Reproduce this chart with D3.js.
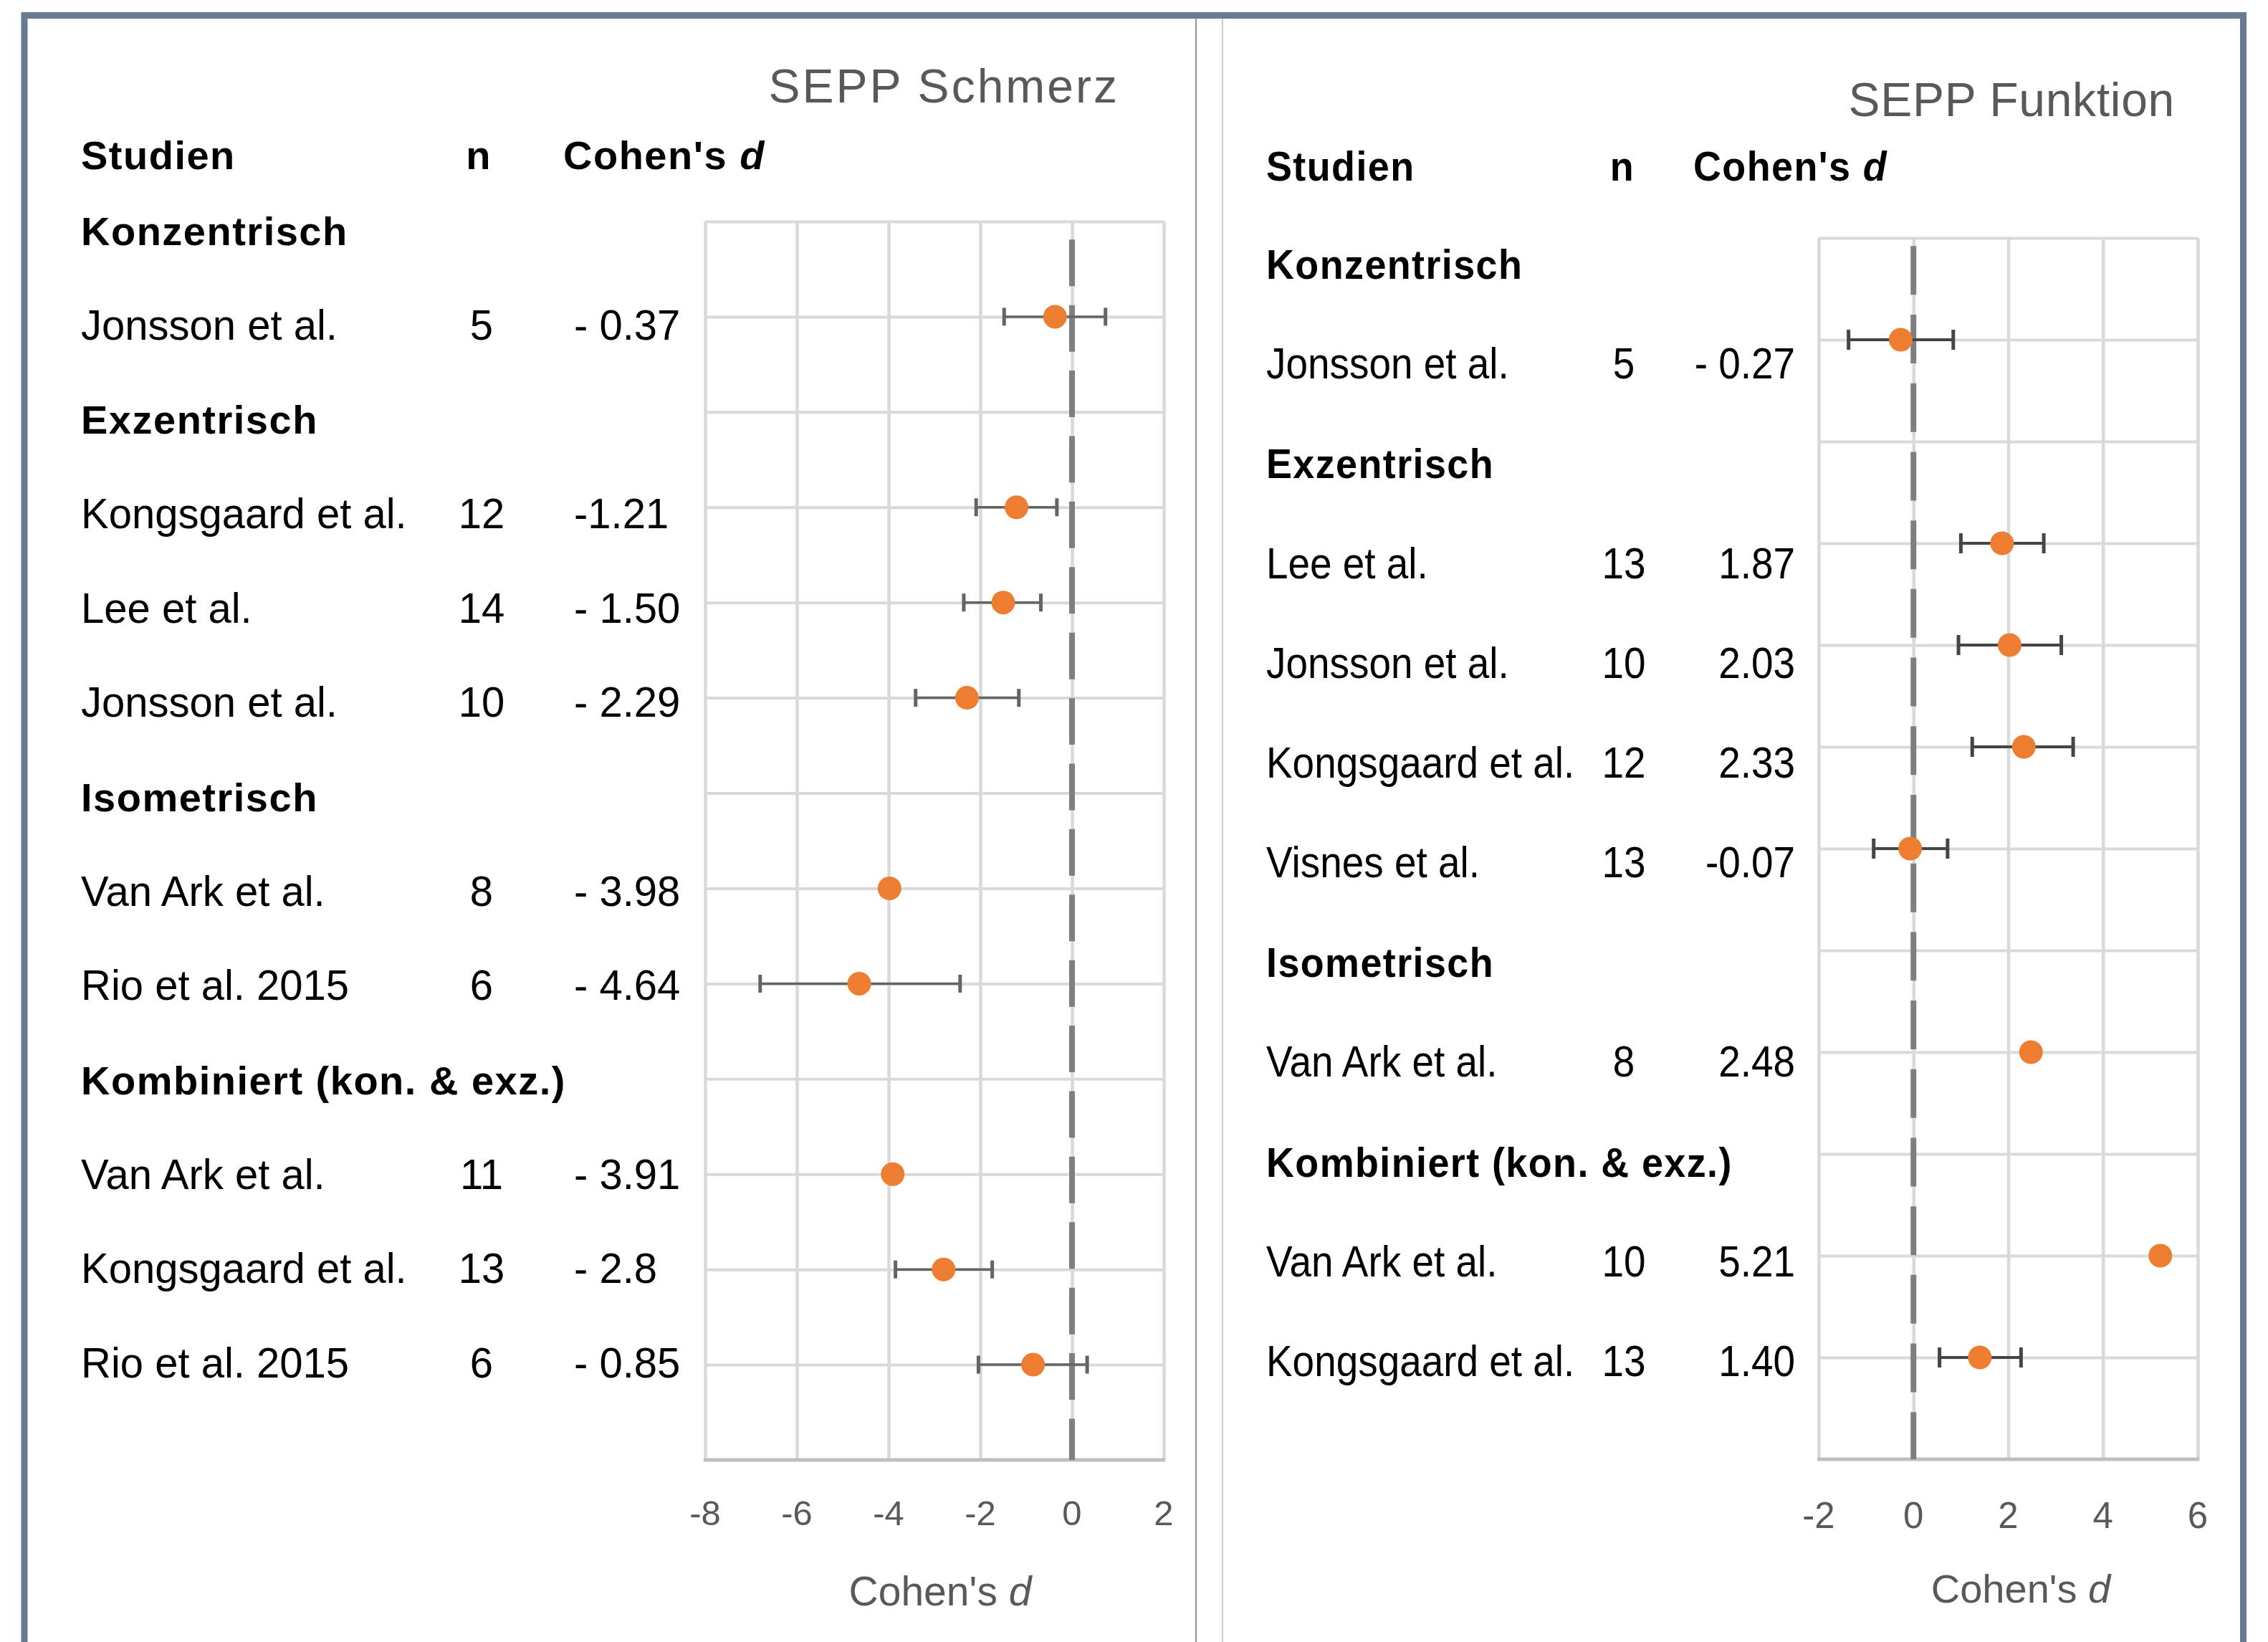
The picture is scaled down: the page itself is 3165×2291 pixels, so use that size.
<!DOCTYPE html>
<html>
<head>
<meta charset="utf-8">
<script src="https://cdn.jsdelivr.net/npm/d3@7"></script>
<style>
  body { margin: 0; background: #fff; }
  svg text { font-family: "Liberation Sans", Arial, Helvetica, sans-serif; }
</style>
</head>
<body>
<svg id="chart" width="3165" height="2291"></svg>
<script>
// ---- data: SEPP Schmerz ----
const painStudies = ["Jonsson et al.", "Kongsgaard et al.", "Lee et al.", "Jonsson et al.", "Van Ark et al.", "Rio et al. 2015", "Van Ark et al.", "Kongsgaard et al.", "Rio et al. 2015"];
const painRows = [1, 3, 4, 5, 7, 8, 10, 11, 12];
const painN = [5, 12, 14, 10, 8, 6, 11, 13, 6];
const painLabels = ["- 0.37", "-1.21", "- 1.50", "- 2.29", "- 3.98", "- 4.64", "- 3.91", "- 2.8", "- 0.85"];
const painD = [-0.37, -1.21, -1.50, -2.29, -3.98, -4.64, -3.91, -2.8, -0.85];
const painLow = [-1.48, -2.09, -2.36, -3.41, null, -6.80, null, -3.85, -2.04];
const painHigh = [0.73, -0.33, -0.68, -1.16, null, -2.44, null, -1.74, 0.33];
const painGroups = ["Konzentrisch", "Exzentrisch", "Isometrisch", "Kombiniert (kon. & exz.)"];
const painGroupRows = [0, 2, 6, 9];
const painTicks = [-8, -6, -4, -2, 0, 2];
const painZero = [0.19, 13];

// ---- data: SEPP Funktion ----
const funcStudies = ["Jonsson et al.", "Lee et al.", "Jonsson et al.", "Kongsgaard et al.", "Visnes et al.", "Van Ark et al.", "Van Ark et al.", "Kongsgaard et al."];
const funcRows = [1, 3, 4, 5, 6, 8, 10, 11];
const funcN = [5, 13, 10, 12, 13, 8, 10, 13];
const funcLabels = ["- 0.27", "1.87", "2.03", "2.33", "-0.07", "2.48", "5.21", "1.40"];
const funcD = [-0.27, 1.87, 2.03, 2.33, -0.07, 2.48, 5.21, 1.40];
const funcLow = [-1.37, 1.00, 0.95, 1.24, -0.84, null, null, 0.55];
const funcHigh = [0.84, 2.75, 3.12, 3.37, 0.72, null, null, 2.27];
const funcGroups = ["Konzentrisch", "Exzentrisch", "Isometrisch", "Kombiniert (kon. & exz.)"];
const funcGroupRows = [0, 2, 7, 9];
const funcTicks = [-2, 0, 2, 4, 6];
const funcZero = [0.08, 12];

const W = 3165, H = 2291;
const ORANGE = "#ED7D31";
const svg = d3.select("#chart");

svg.append("rect").attr("width", W).attr("height", H).attr("fill", "#fff");

// outer frame, open at the bottom, and the seam between the two images
svg.append("path")
    .attr("d", `M34,${H} V21.5 H3130.5 V${H}`)
    .attr("fill", "none")
    .attr("stroke", "#687c91")
    .attr("stroke-width", 9);
svg.append("line").attr("x1", 1669).attr("x2", 1669).attr("y1", 26).attr("y2", H)
    .attr("stroke", "#8796a8").attr("stroke-width", 2);
svg.append("line").attr("x1", 1706).attr("x2", 1706).attr("y1", 26).attr("y2", H)
    .attr("stroke", "#c9cdd3").attr("stroke-width", 2);

const rowsOf = (studies, rows, n, labels, d, lo, hi) =>
    studies.map((s, i) => ({ study: s, row: rows[i], n: n[i], label: labels[i], d: d[i], lo: lo[i], hi: hi[i] }));

function label(g, x, y, sx, txt) {
    return g.append("text")
        .attr("transform", `translate(${x},${y}) scale(${sx},1)`)
        .text(txt);
}

function drawPanel(p, data) {
    const g = svg.append("g");
    const x = d3.scaleLinear().domain(data.domain).range(p.xRange);
    const y = d3.scaleLinear().domain([0, p.rowCount]).range(p.yRange);
    const ly = d3.scaleLinear().domain([0, p.labelRows]).range(p.labelRange);
    const plotH = p.yRange[1] - p.yRange[0];
    const plotW = p.xRange[1] - p.xRange[0];

    // vertical gridlines
    g.append("g")
        .attr("transform", `translate(0,${p.yRange[1]})`)
        .call(d3.axisBottom(x).tickValues(data.ticks).tickSize(plotH).tickFormat(""))
        .call(a => a.select(".domain").remove())
        .selectAll("line")
        .attr("y2", -plotH)
        .attr("stroke", "#d9d9d9")
        .attr("stroke-width", 4.5);

    // horizontal gridlines
    g.append("g")
        .attr("transform", `translate(${p.xRange[0]},0)`)
        .call(d3.axisLeft(y).tickValues(d3.range(0, p.rowCount)).tickSize(-plotW).tickFormat(""))
        .call(a => a.select(".domain").remove())
        .selectAll("line")
        .attr("stroke", "#d9d9d9")
        .attr("stroke-width", 4);

    // bottom axis line
    g.append("line")
        .attr("x1", p.xRange[0] - 2).attr("x2", p.xRange[1] + 2)
        .attr("y1", y(p.rowCount)).attr("y2", y(p.rowCount))
        .attr("stroke", "#bfbfbf").attr("stroke-width", 5);

    // tick labels
    g.selectAll(".tick-label")
        .data(data.ticks)
        .join("text")
        .attr("class", "tick-label")
        .attr("x", t => x(t))
        .attr("y", p.tickY)
        .attr("text-anchor", "middle")
        .attr("font-size", p.tickFont)
        .attr("fill", "#595959")
        .text(t => t);

    // axis title
    const at = g.append("text")
        .attr("x", p.axisTitleX).attr("y", p.axisTitleY)
        .attr("text-anchor", "middle")
        .attr("font-size", p.axisTitleFont)
        .attr("fill", "#595959");
    at.append("tspan").text("Cohen's ");
    at.append("tspan").attr("font-style", "italic").text("d");

    // dashed zero line
    g.append("line")
        .attr("x1", x(0)).attr("x2", x(0))
        .attr("y1", y(data.zero[0])).attr("y2", y(data.zero[1]))
        .attr("stroke", "#7f7f7f")
        .attr("stroke-width", 8)
        .attr("stroke-dasharray", p.dash);

    // error bars
    const withCi = data.rows.filter(r => r.lo !== null);
    const eb = g.append("g").attr("stroke", p.errColor).attr("fill", "none");
    eb.selectAll(".ci")
        .data(withCi)
        .join("line")
        .attr("x1", r => x(r.lo)).attr("x2", r => x(r.hi))
        .attr("y1", r => y(r.row)).attr("y2", r => y(r.row))
        .attr("stroke-width", p.errWidth);
    eb.selectAll(".cap")
        .data(withCi.flatMap(r => [{ v: r.lo, row: r.row }, { v: r.hi, row: r.row }]))
        .join("line")
        .attr("x1", c => x(c.v)).attr("x2", c => x(c.v))
        .attr("y1", c => y(c.row) - p.capHalf).attr("y2", c => y(c.row) + p.capHalf)
        .attr("stroke-width", 5);

    // points
    g.selectAll(".pt")
        .data(data.rows)
        .join("circle")
        .attr("cx", r => x(r.d))
        .attr("cy", r => y(r.row))
        .attr("r", 16.5)
        .attr("fill", ORANGE);

    // title
    g.append("text")
        .attr("x", p.titleX).attr("y", p.titleY)
        .attr("text-anchor", "end")
        .attr("font-size", 66)
        .attr("letter-spacing", p.titleSpacing)
        .attr("fill", "#595959")
        .text(data.title);

    // column headers
    const hd = g.append("g")
        .attr("font-size", p.boldFont)
        .attr("font-weight", "bold")
        .attr("letter-spacing", 1.5)
        .attr("fill", "#000");
    label(hd, p.studyX, p.headY, p.sx, "Studien");
    label(hd, p.nHeadX, p.headY, p.sx, "n").attr("text-anchor", "middle");
    const ch = label(hd, p.dHeadX, p.headY, p.sx, "Cohen's ");
    ch.append("tspan").attr("font-style", "italic").text("d");

    // group headings
    data.groups.forEach((name, i) => {
        label(hd, p.studyX, ly(data.groupRows[i]), p.sx, name);
    });

    // study rows
    const tx = g.append("g").attr("font-size", p.textFont).attr("fill", "#000");
    data.rows.forEach(r => {
        label(tx, p.studyX, ly(r.row), p.textSx, r.study);
        label(tx, p.nX, ly(r.row), p.textSx, r.n).attr("text-anchor", "middle");
        label(tx, p.dX, ly(r.row), p.textSx, r.label).attr("text-anchor", p.dAnchor);
    });
}

drawPanel({
    xRange: [984, 1624], yRange: [309, 2037], rowCount: 13,
    labelRows: 12, labelRange: [342, 1922],
    tickY: 2128, tickFont: 49,
    axisTitleX: 1312, axisTitleY: 2240, axisTitleFont: 57,
    dash: "65,26.4", errColor: "#646464", errWidth: 3.5, capHalf: 12.5,
    titleX: 1562, titleY: 143, titleSpacing: 3,
    headY: 236, studyX: 113, nHeadX: 668, dHeadX: 786,
    nX: 672, dX: 801, dAnchor: "start",
    boldFont: 56, textFont: 60, sx: 1, textSx: 0.967
}, {
    title: "SEPP Schmerz",
    domain: [-8, 2], ticks: painTicks, zero: painZero,
    groups: painGroups, groupRows: painGroupRows,
    rows: rowsOf(painStudies, painRows, painN, painLabels, painD, painLow, painHigh)
});

drawPanel({
    xRange: [2538, 3067], yRange: [332, 2036], rowCount: 12,
    labelRows: 11, labelRange: [389, 1920],
    tickY: 2132, tickFont: 51,
    axisTitleX: 2820, axisTitleY: 2236, axisTitleFont: 56,
    dash: "68,27.7", errColor: "#454545", errWidth: 4, capHalf: 14,
    titleX: 3035, titleY: 162, titleSpacing: 0.7,
    headY: 252, studyX: 1767, nHeadX: 2264, dHeadX: 2363,
    nX: 2266, dX: 2505, dAnchor: "end",
    boldFont: 58, textFont: 61, sx: 0.93, textSx: 0.9
}, {
    title: "SEPP Funktion",
    domain: [-2, 6], ticks: funcTicks, zero: funcZero,
    groups: funcGroups, groupRows: funcGroupRows,
    rows: rowsOf(funcStudies, funcRows, funcN, funcLabels, funcD, funcLow, funcHigh)
});
</script>
</body>
</html>
